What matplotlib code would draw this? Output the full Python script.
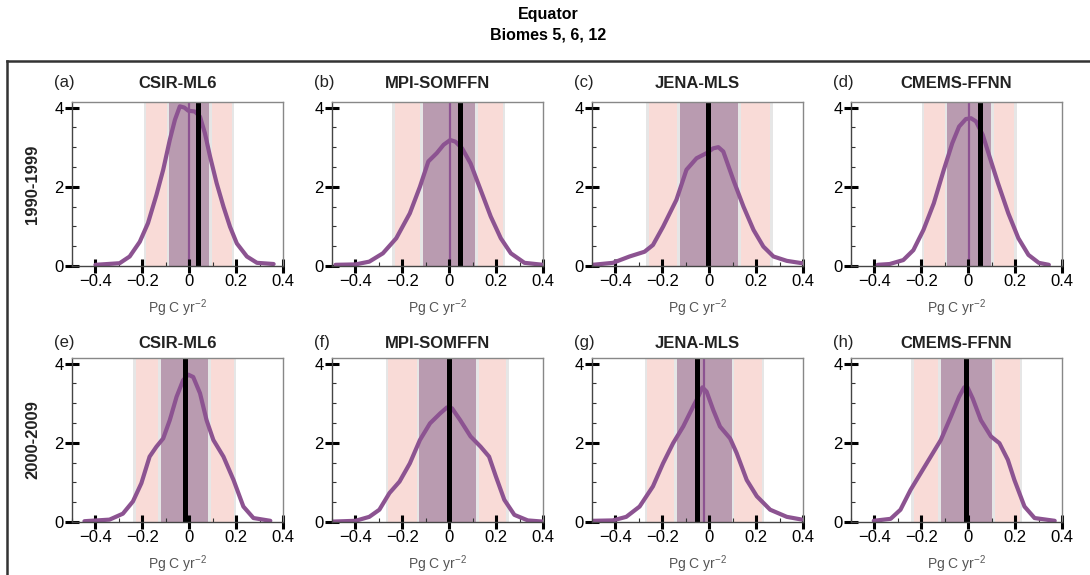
import numpy as np
import matplotlib.pyplot as plt
from matplotlib.lines import Line2D
from matplotlib.ticker import MultipleLocator

plt.rcParams['font.family'] = ['Liberation Sans', 'DejaVu Sans']
plt.rcParams['mathtext.fontset'] = 'custom'
plt.rcParams['mathtext.rm'] = 'Liberation Sans'
plt.rcParams['mathtext.it'] = 'Liberation Sans:italic'
plt.rcParams['mathtext.bf'] = 'Liberation Sans:bold'

# ---- data ----
products = ['CSIR-ML6', 'MPI-SOMFFN', 'JENA-MLS', 'CMEMS-FFNN']
decades = ['1990-1999', '2000-2009']
panel_labels = ['(a)', '(b)', '(c)', '(d)', '(e)', '(f)', '(g)', '(h)']
xtick_values = [-0.4, -0.2, 0, 0.2, 0.4]
xtick_labels = ['\u22120.4', '\u22120.2', '0', '0.2', '0.4']
ytick_values = [0, 2, 4]
ytick_labels = ['0', '2', '4']

# density curves, one per panel (a)-(h)
kde_x = [
    [-0.40, -0.297, -0.254, -0.211, -0.176, -0.14, -0.111, -0.083, -0.061, -0.04, -0.021,
     -0.004, 0.024, 0.046, 0.067, 0.089, 0.117, 0.146, 0.174, 0.203, 0.246, 0.289, 0.36],
    [-0.485, -0.40, -0.341, -0.283, -0.226, -0.168, -0.125, -0.089, -0.053, -0.024, 0.004,
     0.026, 0.055, 0.091, 0.134, 0.177, 0.22, 0.263, 0.321, 0.40],
    [-0.497, -0.411, -0.34, -0.276, -0.24, -0.197, -0.14, -0.097, -0.054, -0.011, 0.017,
     0.039, 0.06, 0.103, 0.146, 0.189, 0.231, 0.274, 0.331, 0.396],
    [-0.386, -0.335, -0.277, -0.234, -0.191, -0.147, -0.104, -0.068, -0.039, -0.01, 0.012,
     0.033, 0.062, 0.091, 0.127, 0.171, 0.214, 0.257, 0.301, 0.344],
    [-0.447, -0.34, -0.283, -0.24, -0.204, -0.169, -0.14, -0.111, -0.083, -0.054, -0.026,
     -0.004, 0.017, 0.046, 0.074, 0.103, 0.146, 0.189, 0.231, 0.274, 0.346],
    [-0.50, -0.40, -0.341, -0.298, -0.255, -0.212, -0.168, -0.125, -0.082, -0.039, -0.01,
     0.012, 0.047, 0.091, 0.134, 0.17, 0.199, 0.235, 0.278, 0.335, 0.40],
    [-0.497, -0.411, -0.354, -0.297, -0.24, -0.197, -0.154, -0.111, -0.069, -0.047, -0.029,
     -0.011, 0.017, 0.046, 0.089, 0.117, 0.16, 0.203, 0.26, 0.331, 0.396],
    [-0.403, -0.331, -0.289, -0.246, -0.203, -0.16, -0.117, -0.074, -0.039, -0.017, -0.003,
     0.019, 0.054, 0.097, 0.133, 0.169, 0.197, 0.24, 0.283, 0.369],
]
kde_y = [
    [0.03, 0.07, 0.24, 0.61, 1.08, 1.79, 2.43, 3.18, 3.69, 4.03, 4.00,
     3.92, 3.90, 3.77, 3.35, 2.76, 2.09, 1.50, 0.99, 0.57, 0.24, 0.08, 0.05],
    [0.03, 0.04, 0.11, 0.32, 0.70, 1.33, 2.00, 2.64, 2.85, 3.06, 3.18,
     3.14, 2.97, 2.59, 1.92, 1.25, 0.70, 0.32, 0.08, 0.03],
    [0.03, 0.08, 0.24, 0.36, 0.53, 0.99, 1.67, 2.43, 2.72, 2.85, 2.97,
     3.00, 2.89, 2.17, 1.50, 0.91, 0.49, 0.24, 0.13, 0.07],
    [0.03, 0.05, 0.15, 0.40, 0.91, 1.58, 2.43, 3.10, 3.52, 3.71, 3.73,
     3.65, 3.31, 2.76, 2.09, 1.33, 0.70, 0.28, 0.08, 0.03],
    [0.02, 0.06, 0.21, 0.52, 0.98, 1.65, 1.90, 2.11, 2.57, 3.16, 3.58,
     3.72, 3.66, 3.25, 2.57, 2.07, 1.65, 1.06, 0.39, 0.10, 0.03],
    [0.01, 0.03, 0.13, 0.31, 0.73, 1.02, 1.48, 2.07, 2.49, 2.74, 2.89,
     2.87, 2.57, 2.16, 1.90, 1.65, 1.15, 0.56, 0.18, 0.04, 0.01],
    [0.03, 0.04, 0.13, 0.39, 0.90, 1.48, 1.99, 2.41, 2.91, 3.16, 3.40,
     3.29, 2.83, 2.41, 2.11, 1.74, 1.06, 0.65, 0.31, 0.13, 0.06],
    [0.03, 0.08, 0.31, 0.81, 1.23, 1.65, 2.07, 2.66, 3.16, 3.40, 3.40,
     3.12, 2.57, 2.16, 1.99, 1.57, 1.06, 0.39, 0.10, 0.03],
]

ensemble_mean = [0.0, 0.002, -0.007, 0.003, -0.018, -0.003, -0.023, -0.010]
observed = [0.037, 0.046, -0.007, 0.051, -0.018, -0.003, -0.054, -0.010]
inner_lo = [-0.085, -0.113, -0.126, -0.089, -0.121, -0.128, -0.139, -0.117]
inner_hi = [0.085, 0.110, 0.124, 0.097, 0.082, 0.114, 0.096, 0.102]
outer_lo = [-0.184, -0.231, -0.258, -0.187, -0.228, -0.260, -0.265, -0.231]
outer_hi = [0.182, 0.228, 0.259, 0.197, 0.189, 0.244, 0.224, 0.219]

# ---- style ----
W, H = 1090, 575
PURPLE = '#8c5391'
MAUVE = '#b99bb0'
PINK = '#f9dbd7'
EDGE_GRAY = '#e6e6e6'
EDGE_W = 0.011

col_left = [72, 332, 592, 851]
row_top = [102, 358]
ax_w, ax_h = 211, 164


def px(x, y):
    '''Convert pixel position (from top-left) to figure fraction.'''
    return x / W, 1 - y / H


def plot_panel(ax, i):
    '''
    Draw one density panel with its uncertainty bands and reference lines.
    '''
    ax.axvspan(outer_lo[i] - EDGE_W, outer_hi[i] + EDGE_W, color=EDGE_GRAY, lw=0, zorder=0)
    ax.axvspan(outer_lo[i], inner_lo[i] - EDGE_W, color=PINK, lw=0, zorder=0.1)
    ax.axvspan(inner_hi[i] + EDGE_W, outer_hi[i], color=PINK, lw=0, zorder=0.1)
    ax.axvspan(inner_lo[i], inner_hi[i], color=MAUVE, lw=0, zorder=0.2)

    ax.axvline(ensemble_mean[i], color=PURPLE, lw=1.6, zorder=1)
    ax.plot(kde_x[i], kde_y[i], color=PURPLE, lw=3, zorder=2,
            solid_capstyle='round', solid_joinstyle='round')
    ax.axvline(observed[i], color='black', lw=3.6, zorder=3)

    ax.set_xlim(-0.5, 0.4)
    ax.set_ylim(0, 4.14)
    ax.set_xticks(xtick_values)
    ax.set_xticklabels(xtick_labels)
    ax.set_yticks(ytick_values)
    ax.set_yticklabels(ytick_labels)
    ax.xaxis.set_minor_locator(MultipleLocator(0.1))
    ax.yaxis.set_minor_locator(MultipleLocator(0.5))
    ax.tick_params(which='major', direction='inout', length=10, width=2.2,
                   labelsize=12, pad=1, color='black')
    ax.tick_params(which='minor', direction='in', length=3, width=0.8, color='#333333')

    for side in ['left', 'bottom']:
        ax.spines[side].set_color('#444444')
    for side in ['top', 'right']:
        ax.spines[side].set_color('#888888')
    for s in ax.spines.values():
        s.set_linewidth(1.0)
        s.set_zorder(4)

    ax.set_xlabel('Pg C yr$^{-2}$', fontsize=10, color='#555555', labelpad=6)


fig = plt.figure(figsize=(W / 100, H / 100), dpi=100)

for r in range(2):
    for c in range(4):
        i = r * 4 + c
        x0, y1 = px(col_left[c], row_top[r] + ax_h)
        ax = fig.add_axes([x0, y1, ax_w / W, ax_h / H])
        plot_panel(ax, i)

        title_y = row_top[r] - (19 if r == 0 else 15)
        fig.text(*px(col_left[c] + ax_w / 2, title_y), products[c], ha='center', va='center',
                 fontsize=12, fontweight='bold', color='#222222')
        fig.text(*px(col_left[c] - 18, title_y), panel_labels[i], ha='left', va='center',
                 fontsize=12, color='#222222')

    fig.text(*px(33, row_top[r] + ax_h / 2), decades[r], rotation=90, ha='center', va='center',
             fontsize=12, fontweight='bold', color='#222222')

fig.text(*px(548, 14), 'Equator', ha='center', va='center', fontsize=11.5, fontweight='bold')
fig.text(*px(548, 35), 'Biomes 5, 6, 12', ha='center', va='center', fontsize=11.5, fontweight='bold')

# frame around the panels
fig.add_artist(Line2D([7 / W, 1.0], [1 - 61 / H, 1 - 61 / H], color='#333333', lw=1.8))
fig.add_artist(Line2D([7 / W, 7 / W], [0.0, 1 - 61 / H], color='#333333', lw=1.8))

plt.savefig('out.png', dpi=100)
